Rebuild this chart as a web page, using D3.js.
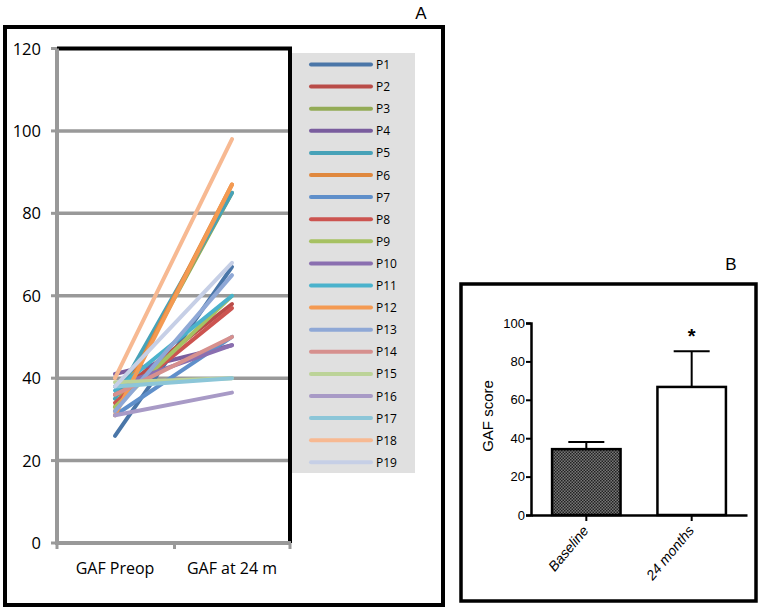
<!DOCTYPE html>
<html>
<head>
<meta charset="utf-8">
<title>GAF scores</title>
<style>
    body { margin: 0; background: #fff; }
    .lbl-a { font-family: "Open Sans", Lato, sans-serif; }
    .lbl-b { font-family: "Liberation Sans", Arial, sans-serif; }
</style>
</head>
<body>
<div id="chart"></div>
<script src="https://cdn.jsdelivr.net/npm/d3@7/dist/d3.min.js"></script>
<script>
// panel A data
var timepoints = ["GAF Preop", "GAF at 24 m"];
var patients = ["P1","P2","P3","P4","P5","P6","P7","P8","P9","P10",
                "P11","P12","P13","P14","P15","P16","P17","P18","P19"];
var gafPreop = [26, 36, 33, 41, 35, 32, 31, 34, 33, 38, 37, 31, 32, 36, 39, 31, 38, 40, 38];
var gaf24m   = [67, 58, 85, 48, 85, 87, 50, 57, 60, 48, 60, 87, 65, 50, 40, 36.5, 40, 98, 68];
var patientColors = ["#4a76a8","#b94c48","#93ab56","#7a5d9e","#47a2b8","#e0883e","#5f8fca",
                     "#cc5450","#a6c162","#8a6fb0","#4ab2cc","#f49a52","#8fa8d6","#d6908e",
                     "#bcd398","#a89ac6","#8cc6d8","#f7b992","#c6cfe6"];
var ticksA = [0, 20, 40, 60, 80, 100, 120];

// panel B data
var groups = ["Baseline", "24 months"];
var means = [34.3, 66.7];
var errTop = [38, 85.3];
var ticksB = [0, 20, 40, 60, 80, 100];

var svg = d3.select("#chart").append("svg")
    .attr("width", 762)
    .attr("height", 613);

// ---------- panel A ----------
var xA = d3.scalePoint().domain(timepoints).range([115, 232]);
var yA = d3.scaleLinear().domain([0, 120]).range([543, 48.5]);
var plotL = 57, plotR = 290;

svg.append("rect")
    .attr("x", 5).attr("y", 27).attr("width", 438).attr("height", 578)
    .attr("fill", "none").attr("stroke", "#000").attr("stroke-width", 4);

svg.append("text").attr("class", "lbl-b")
    .attr("x", 421).attr("y", 19).attr("text-anchor", "middle")
    .attr("font-size", 17).text("A");

var gA = svg.append("g");

// gridlines
gA.selectAll(".grid")
    .data(ticksA.filter(function(d) { return d > 0 && d < 120; }))
    .enter().append("line")
    .attr("x1", plotL).attr("x2", plotR)
    .attr("y1", function(d) { return yA(d); })
    .attr("y2", function(d) { return yA(d); })
    .attr("stroke", "#999").attr("stroke-width", 3.5);

// top and right border in black
gA.append("path")
    .attr("d", "M" + plotL + "," + yA(120) + "H" + plotR + "V" + yA(0))
    .attr("fill", "none").attr("stroke", "#000").attr("stroke-width", 4);

// left and bottom axis in gray
gA.append("path")
    .attr("d", "M" + plotL + "," + yA(120) + "V" + yA(0) + "H" + (plotR + 1))
    .attr("fill", "none").attr("stroke", "#999").attr("stroke-width", 4);

gA.selectAll(".ytick")
    .data(ticksA)
    .enter().append("line")
    .attr("x1", plotL - 6).attr("x2", plotL)
    .attr("y1", function(d) { return yA(d); })
    .attr("y2", function(d) { return yA(d); })
    .attr("stroke", "#999").attr("stroke-width", 3);

gA.selectAll(".xtick")
    .data([plotL, (plotL + plotR) / 2 + 1, plotR])
    .enter().append("line")
    .attr("x1", function(d) { return d; }).attr("x2", function(d) { return d; })
    .attr("y1", yA(0)).attr("y2", yA(0) + 6)
    .attr("stroke", "#999").attr("stroke-width", 3);

gA.selectAll(".ylabel")
    .data(ticksA)
    .enter().append("text")
    .attr("class", "lbl-a")
    .attr("x", 41)
    .attr("y", function(d) { return yA(d) + 6; })
    .attr("text-anchor", "end")
    .attr("font-size", 16.5)
    .text(function(d) { return d; });

gA.selectAll(".xlabel")
    .data(timepoints)
    .enter().append("text")
    .attr("class", "lbl-a")
    .attr("x", function(d) { return xA(d); })
    .attr("y", 574)
    .attr("text-anchor", "middle")
    .attr("font-size", 16)
    .text(function(d) { return d; });

// patient lines
var line = d3.line()
    .x(function(d) { return xA(d.t); })
    .y(function(d) { return yA(d.v); });

gA.selectAll(".pline")
    .data(patients)
    .enter().append("path")
    .attr("d", function(p, i) {
        return line([{ t: timepoints[0], v: gafPreop[i] }, { t: timepoints[1], v: gaf24m[i] }]);
    })
    .attr("fill", "none")
    .attr("stroke", function(p, i) { return patientColors[i]; })
    .attr("stroke-width", 4)
    .attr("stroke-linecap", "round");

// legend
gA.append("rect")
    .attr("x", 292).attr("y", 53).attr("width", 123).attr("height", 420)
    .attr("fill", "#e0e0e0");

var leg = gA.selectAll(".leg")
    .data(patients)
    .enter().append("g")
    .attr("transform", function(d, i) { return "translate(0," + (64.5 + i * 22.1) + ")"; });

leg.append("line")
    .attr("x1", 311).attr("x2", 371)
    .attr("stroke", function(d, i) { return patientColors[i]; })
    .attr("stroke-width", 4)
    .attr("stroke-linecap", "round");

leg.append("text")
    .attr("class", "lbl-a")
    .attr("x", 376).attr("y", 4.5)
    .attr("font-size", 12)
    .text(function(d) { return d; });

// ---------- panel B ----------
svg.append("rect")
    .attr("x", 461).attr("y", 284).attr("width", 295).attr("height", 317)
    .attr("fill", "none").attr("stroke", "#000").attr("stroke-width", 3.5);

svg.append("text").attr("class", "lbl-b")
    .attr("x", 731).attr("y", 270).attr("text-anchor", "middle")
    .attr("font-size", 17).text("B");

var defs = svg.append("defs");
var pat = defs.append("pattern")
    .attr("id", "hatch")
    .attr("width", 3).attr("height", 3)
    .attr("patternUnits", "userSpaceOnUse");
pat.append("rect").attr("width", 3).attr("height", 3).attr("fill", "#777");
pat.append("rect").attr("width", 1.5).attr("height", 1.5).attr("fill", "#222");
pat.append("rect").attr("x", 1.5).attr("y", 1.5).attr("width", 1.5).attr("height", 1.5).attr("fill", "#222");

var xB = d3.scaleBand().domain(groups).range([531, 747]).paddingInner(0.35).paddingOuter(0.2);
var yB = d3.scaleLinear().domain([0, 100]).range([515, 323]);

var gB = svg.append("g");

// error bars (upper only), drawn behind bars
gB.selectAll(".err")
    .data(groups)
    .enter().append("path")
    .attr("d", function(d, i) {
        var cx = xB(d) + xB.bandwidth() / 2;
        return "M" + cx + "," + yB(means[i]) + "V" + yB(errTop[i]) +
               "M" + (cx - 18) + "," + yB(errTop[i]) + "H" + (cx + 18);
    })
    .attr("fill", "none").attr("stroke", "#000").attr("stroke-width", 2);

gB.selectAll(".bar")
    .data(groups)
    .enter().append("rect")
    .attr("x", function(d) { return xB(d); })
    .attr("y", function(d, i) { return yB(means[i]); })
    .attr("width", xB.bandwidth())
    .attr("height", function(d, i) { return yB(0) - yB(means[i]); })
    .attr("fill", function(d, i) { return i === 0 ? "url(#hatch)" : "#fff"; })
    .attr("stroke", "#000").attr("stroke-width", 2.5);

var axisL = gB.append("g")
    .attr("transform", "translate(531,0)")
    .call(d3.axisLeft(yB).tickValues(ticksB).tickSize(5).tickPadding(1));
axisL.select(".domain").attr("stroke-width", 2.5);
axisL.selectAll(".tick line").attr("stroke-width", 2);
axisL.selectAll("text").attr("font-size", 13).attr("font-family", "Liberation Sans, Arial, sans-serif");

var axisX = gB.append("g")
    .attr("transform", "translate(0,515)")
    .call(d3.axisBottom(xB).tickSize(6).tickSizeOuter(0));
axisX.select(".domain").attr("stroke-width", 2.5);
axisX.selectAll(".tick line").attr("stroke-width", 2);
axisX.selectAll("text")
    .attr("font-size", 14)
    .attr("font-family", "Liberation Sans, Arial, sans-serif")
    .attr("font-style", "italic")
    .attr("text-anchor", "end")
    .attr("y", 0).attr("dy", 0)
    .attr("transform", "translate(3,16) rotate(-50)");

gB.append("text").attr("class", "lbl-b")
    .attr("transform", "translate(493,416) rotate(-90)")
    .attr("text-anchor", "middle")
    .attr("font-size", 15)
    .text("GAF score");

gB.append("text").attr("class", "lbl-b")
    .attr("x", xB(groups[1]) + xB.bandwidth() / 2)
    .attr("y", yB(errTop[1]) - 8)
    .attr("text-anchor", "middle")
    .attr("font-size", 20)
    .attr("font-weight", "bold")
    .text("*");
</script>
</body>
</html>
